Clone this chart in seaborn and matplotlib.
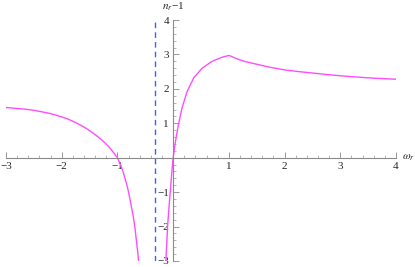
import numpy as np
import pandas as pd
import seaborn as sns
import matplotlib
matplotlib.use("Agg")
import matplotlib.pyplot as plt
from matplotlib.ticker import MultipleLocator

# values
left_w = [-3.0, -2.8, -2.65, -2.51, -2.25, -2.13, -2.01, -1.9, -1.8, -1.7, -1.61, -1.53, -1.45,
          -1.38, -1.31, -1.23, -1.15, -1.07, -1.0, -0.95, -0.9, -0.87, -0.83, -0.80, -0.77,
          -0.74, -0.71, -0.685, -0.66, -0.64, -0.62]
left_n = [1.46, 1.43, 1.41, 1.38, 1.30, 1.25, 1.19, 1.13, 1.06, 0.98, 0.90, 0.82, 0.73,
          0.645, 0.555, 0.44, 0.31, 0.15, 0.0, -0.18, -0.40, -0.57, -0.79, -1.0, -1.25,
          -1.50, -1.76, -2.05, -2.40, -2.68, -3.0]

right_w = [-0.13, -0.115, -0.10, -0.075, -0.05, -0.025, 0.0, 0.03, 0.06, 0.10, 0.16, 0.25,
           0.37, 0.52, 0.70, 0.88, 1.0, 1.05, 1.12, 1.2, 1.30, 1.54, 1.7, 1.90, 2.0, 2.26,
           2.5, 2.74, 3.0, 3.33, 3.6, 4.0]
right_n = [-3.0, -2.5, -2.0, -1.45, -0.95, -0.45, 0.0, 0.35, 0.65, 1.0, 1.45, 1.92,
           2.32, 2.60, 2.80, 2.92, 2.97, 2.94, 2.89, 2.84, 2.79, 2.70, 2.64, 2.58, 2.55, 2.50,
           2.46, 2.42, 2.38, 2.34, 2.31, 2.28]

asymptote_w = -0.33
x_ticks = [-3, -2, -1, 1, 2, 3, 4]
y_ticks = [-3, -2, -1, 1, 2, 3, 4]

left = pd.DataFrame({"w": left_w, "n": left_n})
right = pd.DataFrame({"w": right_w, "n": right_n})

sns.set_style("white")
plt.rcParams["font.family"] = "serif"
plt.rcParams["font.serif"] = ["Liberation Serif", "DejaVu Serif"]
plt.rcParams["mathtext.fontset"] = "stix"

fig = plt.figure(figsize=(4.15, 2.67), dpi=100)
ax = fig.add_axes([6 / 415, 1 - 261 / 267, 390 / 415, 241 / 267])

curve_col = "#ff4cff"
sns.lineplot(data=left, x="w", y="n", sort=False, color=curve_col, lw=1.0, ax=ax)
sns.lineplot(data=right, x="w", y="n", sort=False, color=curve_col, lw=1.0, ax=ax)
ax.plot([asymptote_w, asymptote_w], [-3, 4], color="#3f5cff", lw=1.0,
        linestyle=(0, (4, 3)))

ax.set_xlim(-3, 4)
ax.set_ylim(-3, 4)
ax.set_xlabel("")
ax.set_ylabel("")

for s in ["top", "right"]:
    ax.spines[s].set_visible(False)
ax.spines["left"].set_position(("data", 0))
ax.spines["bottom"].set_position(("data", 0))
for s in ["left", "bottom"]:
    ax.spines[s].set_color("#8a8a8a")
    ax.spines[s].set_linewidth(0.8)

ax.set_xticks(x_ticks)
ax.set_yticks(y_ticks)
ax.set_xticklabels(["\u2212%d" % -t if t < 0 else str(t) for t in x_ticks])
ax.set_yticklabels(["\u2212%d" % -t if t < 0 else str(t) for t in y_ticks])
ax.xaxis.set_minor_locator(MultipleLocator(0.2))
ax.yaxis.set_minor_locator(MultipleLocator(0.2))
ax.tick_params(which="major", direction="in", length=4, width=0.7, color="#999999",
               labelsize=8, pad=3)
ax.tick_params(which="minor", direction="in", length=2, width=0.6, color="#aaaaaa")
ax.tick_params(axis="x", which="both", bottom=True)
ax.tick_params(axis="y", which="both", left=True)

ax.text(0, 4.2, r"$n_r$" + "\u22121", ha="center", va="bottom", fontsize=8)
ax.text(4.1, 0, r"$\omega_r$", ha="left", va="center", fontsize=8)

fig.savefig("out.png", dpi=100)
